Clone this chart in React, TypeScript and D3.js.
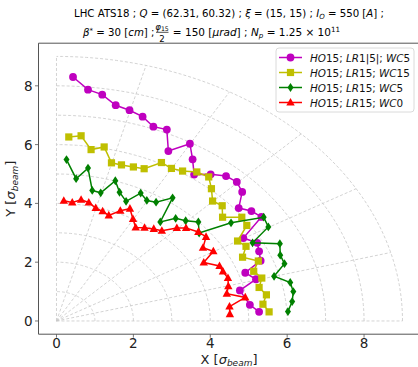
import React from 'react';
import * as d3 from 'd3';

// HO15; LR1|5|; WC5 (magenta circles)
const magX = [0.43, 0.82, 1.19, 1.54, 1.90, 2.24, 2.52, 2.87, 2.91, 3.47, 3.54, 3.58, 4.01, 4.41, 4.69, 4.83, 4.74, 5.07, 5.33, 4.86, 5.22, 5.27, 5.31, 4.91, 5.19, 4.77, 5.03, 5.27];
const magY = [8.30, 7.87, 7.70, 7.34, 7.17, 6.95, 6.61, 6.51, 5.78, 6.03, 5.50, 4.98, 4.99, 4.93, 4.73, 4.39, 3.84, 3.74, 3.54, 2.82, 2.66, 2.37, 2.05, 1.64, 1.42, 1.04, 0.55, 0.31];
// HO15; LR15; WC15 (yellow squares)
const yelX = [0.32, 0.64, 0.90, 1.24, 1.43, 1.69, 2.00, 2.28, 2.73, 2.99, 3.28, 3.65, 3.96, 4.03, 4.06, 4.31, 4.32, 4.82, 4.95, 4.71, 4.93, 4.84, 5.25, 5.13, 5.34, 5.27, 5.46, 5.37, 5.53];
const yelY = [6.26, 6.30, 5.83, 5.92, 5.38, 5.31, 5.24, 5.18, 5.39, 5.19, 5.10, 5.07, 4.90, 4.50, 4.08, 3.92, 3.53, 3.53, 3.25, 2.72, 2.54, 2.17, 2.04, 1.69, 1.46, 1.14, 0.89, 0.57, 0.31];
// HO15; LR15; WC5 (green diamonds)
const grnX = [0.26, 0.51, 0.82, 0.93, 1.15, 1.53, 1.64, 1.81, 2.19, 2.35, 2.59, 3.02, 2.70, 3.10, 3.36, 3.69, 3.71, 4.54, 5.39, 5.51, 5.10, 5.81, 5.82, 5.93, 5.66, 6.08, 6.16, 6.13, 6.02];
const grnY = [5.49, 4.84, 5.20, 4.44, 4.36, 4.77, 4.38, 4.07, 4.35, 4.10, 4.04, 4.19, 3.37, 3.49, 3.41, 3.37, 2.99, 3.34, 3.53, 3.20, 2.66, 2.63, 2.24, 1.95, 1.52, 1.31, 1.00, 0.66, 0.32];
// HO15; LR15; WC0 (red triangles)
const redX = [0.19, 0.41, 0.64, 0.84, 1.02, 1.20, 1.36, 1.66, 1.91, 1.99, 2.06, 2.29, 2.53, 2.74, 3.13, 3.37, 3.69, 3.89, 3.81, 4.08, 3.83, 4.24, 4.33, 4.46, 4.47, 4.43, 4.91, 4.50, 4.51];
const redY = [4.09, 4.03, 4.12, 4.03, 3.84, 3.73, 3.59, 3.75, 3.82, 3.47, 3.18, 3.17, 3.13, 3.07, 3.16, 3.16, 3.03, 2.86, 2.49, 2.37, 1.99, 1.87, 1.68, 1.46, 1.18, 0.93, 0.80, 0.49, 0.23];

const seriesNames = ['HO15; LR1|5|; WC5', 'HO15; LR15; WC15', 'HO15; LR15; WC5', 'HO15; LR15; WC0'];
const xTicks = [0, 2, 4, 6, 8];
const yTicks = [0, 2, 4, 6, 8];
const gridRadii = [1, 2, 3, 4, 5, 6, 7, 8, 9];
const gridAngles = [0, 15, 30, 45, 60, 75, 90];

const FONT = 'DejaVu Sans, sans-serif';

function Marker({ kind, color, cx, cy }: { kind: string; color: string; cx: number; cy: number }) {
  if (kind === 'circle') return <circle cx={cx} cy={cy} r={3.9} fill={color} />;
  if (kind === 'square') return <rect x={cx - 3.6} y={cy - 3.6} width={7.2} height={7.2} fill={color} />;
  if (kind === 'diamond')
    return <path d={`M${cx},${cy - 4.4}L${cx + 3},${cy}L${cx},${cy + 4.4}L${cx - 3},${cy}Z`} fill={color} />;
  return <path d={`M${cx},${cy - 4.6}L${cx + 4.2},${cy + 3}L${cx - 4.2},${cy + 3}Z`} fill={color} />;
}

function LegendLabel({ name, x, y }: { name: string; x: number; y: number }) {
  const parts: { t: string; it: boolean }[] = [];
  for (const ch of name) {
    const it = /[A-Za-z]/.test(ch);
    if (parts.length && parts[parts.length - 1].it === it) parts[parts.length - 1].t += ch;
    else parts.push({ t: ch, it });
  }
  return (
    <text x={x} y={y} fontSize={10.4} fontFamily={FONT} fill="#111" dominantBaseline="central" xmlSpace="preserve">
      {parts.map((p, i) => (
        <tspan key={i} fontStyle={p.it ? 'italic' : 'normal'}>{p.t}</tspan>
      ))}
    </text>
  );
}

export default function App() {
  const W = 418, H = 367;
  const x = d3.scaleLinear().domain([-0.468, 9.45]).range([38.5, 419.8]);
  const y = d3.scaleLinear().domain([-0.45, 9.45]).range([334.2, 43.2]);

  const series = [
    { xs: magX, ys: magY, color: '#bf00bf', kind: 'circle' },
    { xs: yelX, ys: yelY, color: '#bfbf00', kind: 'square' },
    { xs: grnX, ys: grnY, color: '#008000', kind: 'diamond' },
    { xs: redX, ys: redY, color: '#ff0000', kind: 'triangle' },
  ];

  const line = d3.line<[number, number]>().x(d => x(d[0])).y(d => y(d[1]));
  const arcPts = (r: number) => d3.range(0, 91, 1).map(a => [r * Math.cos((a * Math.PI) / 180), r * Math.sin((a * Math.PI) / 180)] as [number, number]);

  const gridStyle = { stroke: '#c8c8c8', strokeWidth: 0.8, strokeDasharray: '3,2', fill: 'none' };
  const left = x.range()[0], right = x.range()[1];
  const top = y.range()[1], bottom = y.range()[0];

  const TS = 10.2;
  return (
    <svg width={W} height={H} style={{ position: 'absolute', left: 0, top: 0 }} fontFamily={FONT}>
      <rect width={W} height={H} fill="#fff" />
      {/* title */}
      <text x={229} y={17} fontSize={TS} textAnchor="middle" xmlSpace="preserve">
        <tspan>LHC ATS18 ; </tspan>
        <tspan fontStyle="italic">Q</tspan>
        <tspan> = (62.31, 60.32) ; </tspan>
        <tspan fontStyle="italic">ξ</tspan>
        <tspan> = (15, 15) ; </tspan>
        <tspan fontStyle="italic">I</tspan>
        <tspan fontStyle="italic" fontSize={7} dy={2.2}>O</tspan>
        <tspan dy={-2.2}> = 550 [</tspan>
        <tspan fontStyle="italic">A</tspan>
        <tspan>] ;</tspan>
      </text>
      <text x={154.5} y={36} fontSize={TS} textAnchor="end" xmlSpace="preserve">
        <tspan fontStyle="italic">β</tspan>
        <tspan fontSize={7} dy={-3.5}>*</tspan>
        <tspan dy={3.5}> = 30 [</tspan>
        <tspan fontStyle="italic">cm</tspan>
        <tspan>] ;</tspan>
      </text>
      <text x={162} y={29.5} fontSize={8.6} textAnchor="middle">
        <tspan fontStyle="italic">φ</tspan>
        <tspan fontSize={6.2} dy={1.3}>15</tspan>
      </text>
      <line x1={156} x2={168.5} y1={32.3} y2={32.3} stroke="#000" strokeWidth={0.7} />
      <text x={162} y={41.8} fontSize={8.6} textAnchor="middle">2</text>
      <text x={169.5} y={36} fontSize={10.5} textAnchor="start" xmlSpace="preserve">
        <tspan> = 150 [</tspan>
        <tspan fontStyle="italic">μrad</tspan>
        <tspan>] ; </tspan>
        <tspan fontStyle="italic">N</tspan>
        <tspan fontStyle="italic" fontSize={7.2} dy={2.2}>p</tspan>
        <tspan dy={-2.2}> = 1.25 × 10</tspan>
        <tspan fontSize={7.2} dy={-4.5}>11</tspan>
      </text>

      {/* polar grid */}
      <g>
        {gridRadii.map(r => (
          <path key={'a' + r} d={line(arcPts(r)) || ''} {...gridStyle} />
        ))}
        {gridAngles.map(a => {
          const rad = (a * Math.PI) / 180;
          const R = gridRadii[gridRadii.length - 1];
          return (
            <line key={'r' + a} x1={x(0)} y1={y(0)} x2={x(R * Math.cos(rad))} y2={y(R * Math.sin(rad))} {...gridStyle} />
          );
        })}
      </g>

      {/* series */}
      {series.map((s, si) => {
        const pts = s.xs.map((v, i) => [v, s.ys[i]] as [number, number]);
        return (
          <g key={si}>
            <path d={line(pts) || ''} stroke={s.color} strokeWidth={1.5} fill="none" />
            {pts.map((p, i) => (
              <Marker key={i} kind={s.kind} color={s.color} cx={x(p[0])} cy={y(p[1])} />
            ))}
          </g>
        );
      })}

      {/* frame */}
      <path d={`M${right},${top}H${left}V${bottom}H${right}`} stroke="#555" strokeWidth={1} fill="none" />

      {/* x ticks */}
      {xTicks.map(t => (
        <g key={'x' + t}>
          <line x1={x(t)} x2={x(t)} y1={bottom} y2={bottom + 3.5} stroke="#555" strokeWidth={0.8} />
          <text x={x(t)} y={bottom + 14} fontSize={13.5} textAnchor="middle" fill="#222">{t}</text>
        </g>
      ))}
      {yTicks.map(t => (
        <g key={'y' + t}>
          <line x1={left} x2={left - 3.5} y1={y(t)} y2={y(t)} stroke="#555" strokeWidth={0.8} />
          <text x={left - 6} y={y(t)} fontSize={13.5} textAnchor="end" dominantBaseline="central" fill="#222">{t}</text>
        </g>
      ))}

      {/* axis labels */}
      <text x={229} y={363.5} fontSize={13} textAnchor="middle" fill="#222" xmlSpace="preserve">
        <tspan>X [</tspan>
        <tspan fontStyle="italic">σ</tspan>
        <tspan fontStyle="italic" fontSize={9} dy={2.5}>beam</tspan>
        <tspan dy={-2.5}>]</tspan>
      </text>
      <text transform={`translate(15,${(top + bottom) / 2}) rotate(-90)`} fontSize={13} textAnchor="middle" fill="#222" xmlSpace="preserve">
        <tspan>Y [</tspan>
        <tspan fontStyle="italic">σ</tspan>
        <tspan fontStyle="italic" fontSize={9} dy={2.5}>beam</tspan>
        <tspan dy={-2.5}>]</tspan>
      </text>

      {/* legend */}
      <g>
        <rect x={276} y={48} width={138} height={64} rx={3} fill="#fff" fillOpacity={0.8} stroke="#d0d0d0" strokeWidth={0.8} />
        {series.map((s, i) => {
          const ly = 57.5 + i * 15;
          return (
            <g key={'l' + i}>
              <line x1={279} x2={302} y1={ly} y2={ly} stroke={s.color} strokeWidth={1.5} />
              <Marker kind={s.kind} color={s.color} cx={290.5} cy={ly} />
              <LegendLabel name={seriesNames[i]} x={310} y={ly} />
            </g>
          );
        })}
      </g>
    </svg>
  );
}
